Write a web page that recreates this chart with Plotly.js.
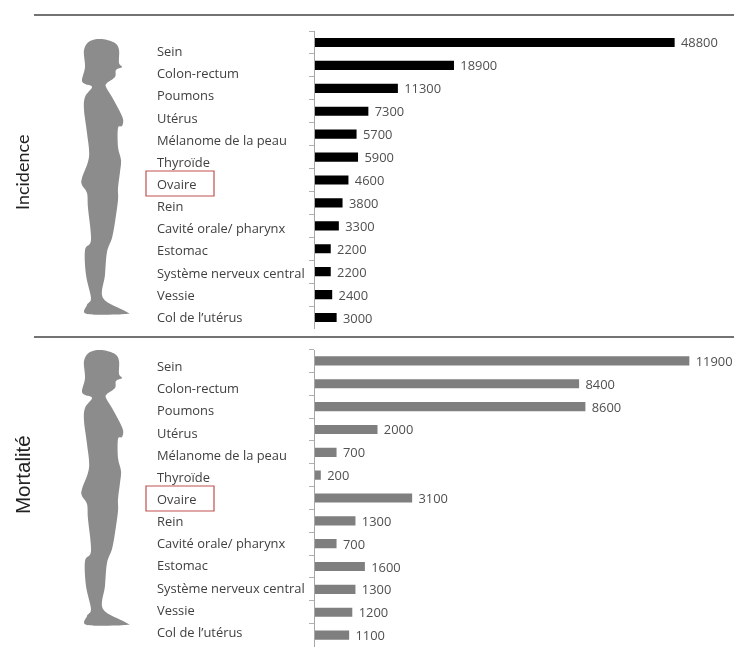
<!DOCTYPE html>
<html><head><meta charset="utf-8">
<script src="https://cdn.plot.ly/plotly-3.0.1.min.js"></script>
<style>html,body{margin:0;padding:0;background:#fff;overflow:hidden}#c{width:734px;height:651px;filter:blur(0.35px)}</style>
</head><body><div id="c"></div>
<script>
const categories = ["Sein","Colon-rectum","Poumons","Utérus","Mélanome de la peau","Thyroïde","Ovaire","Rein","Cavité orale/ pharynx","Estomac","Système nerveux central","Vessie","Col de l’utérus"];
const incidence = [48800,18900,11300,7300,5700,5900,4600,3800,3300,2200,2200,2400,3000];
const mortalite = [11900,8400,8600,2000,700,200,3100,1300,700,1600,1300,1200,1100];

const W=734,H=651;
const px=x=>x/W, py=y=>1-y/H;
// silhouette outline in page pixels relative to the top chart
const body=[[102,39],[115,43],[119,50],[119,63],[122,67],[116,70],[115,77],[107,83],[106,87],[112,97],[118,108],[123,119],[122,126],[118,128],[118,147],[121,160],[120,172],[118,188],[118,200],[115,222],[112,238],[107,252],[105,275],[103,298],[125,311],[126,314],[87,314],[87,305],[91,298],[86,275],[85,250],[91,240],[88,208],[87,193],[82,185],[82,178],[89,157],[87,133],[84,110],[85,97],[92,87],[85,84],[82,80],[85,67],[84,50],[90,41]];
function silhouette(dy){
  const p=body.map(([x,y])=>[x,y+dy]), n=p.length;
  const c=([x,y])=>px(x)+","+py(y);
  let d="M"+c(p[0]);
  for(let i=0;i<n;i++){
    const a=p[(i-1+n)%n],b=p[i],e=p[(i+1)%n],f=p[(i+2)%n];
    const c1=[b[0]+(e[0]-a[0])/6,b[1]+(e[1]-a[1])/6],c2=[e[0]-(f[0]-b[0])/6,e[1]-(f[1]-b[1])/6];
    d+="C"+c(c1)+" "+c(c2)+" "+c(e);
  }
  return d+"Z";
}
const labelFont={family:"Open Sans, sans-serif",size:12.9,color:"#404040"};
const valueFont={family:"Open Sans, sans-serif",size:12.9,color:"#505050"};
const bar=(vals,color,xa,ya)=>({type:"bar",orientation:"h",x:vals,y:categories,xaxis:xa,yaxis:ya,width:0.4,
  marker:{color:color,line:{width:0}},text:vals.map(v=>" "+v),textposition:"outside",constraintext:"none",cliponaxis:false,
  textfont:valueFont,hoverinfo:"x+y",showlegend:false});

const yaxisBase={type:"category",categoryorder:"array",categoryarray:categories,autorange:false,range:[12.5,-0.5],
  showticklabels:false,showgrid:false,zeroline:false,showline:true,linecolor:"#a6a6a6",linewidth:1,
  ticks:"outside",ticklen:5,tickcolor:"#b0b0b0",tickson:"boundaries"};
const labelAxis=(top,bottom,anchor)=>({type:"linear",domain:[py(bottom),py(top)],range:[12.5,-0.5],visible:false,anchor:anchor});
const xaxisBase=(max)=>({domain:[px(314.5),1],range:[0,max],visible:false});

const annots=[];
function labels(ya){
  categories.forEach((c,i)=>annots.push({xref:"paper",yref:ya,x:px(157),y:i,text:c,xanchor:"left",yanchor:"middle",
    showarrow:false,font:labelFont,borderpad:0,borderwidth:0}));
}
labels("y3");labels("y4");
annots.push({xref:"paper",yref:"paper",x:px(22),y:py(173),xanchor:"center",yanchor:"middle",text:"Incidence",textangle:-90,showarrow:false,font:{family:"Lato, sans-serif",size:18,color:"#222"}});
annots.push({xref:"paper",yref:"paper",x:px(22),y:py(475),xanchor:"center",yanchor:"middle",text:"Mortalité",textangle:-90,showarrow:false,font:{family:"Liberation Sans, sans-serif",size:20.5,color:"#222"}});

const rule=y=>({type:"line",xref:"paper",yref:"paper",x0:px(34),x1:1,y0:py(y),y1:py(y),line:{color:"#444",width:1.5}});
const box=(y0,y1)=>({type:"rect",xref:"paper",yref:"paper",x0:px(146),x1:px(214),y0:py(y0),y1:py(y1),line:{color:"#c0504d",width:1.2}});
const fig=d=>({type:"path",xref:"paper",yref:"paper",path:silhouette(d),fillcolor:"#8c8c8c",line:{width:0}});

const layout={width:W,height:H,margin:{l:0,r:0,t:0,b:0,pad:0},paper_bgcolor:"#fff",plot_bgcolor:"rgba(0,0,0,0)",bargap:0.6,showlegend:false,
  xaxis:Object.assign(xaxisBase(419.5/0.00738),{anchor:"y"}),
  yaxis:Object.assign({},yaxisBase,{domain:[py(329),py(31)],anchor:"x"}),
  xaxis2:Object.assign(xaxisBase(419.5/0.0315),{anchor:"y2"}),
  yaxis2:Object.assign({},yaxisBase,{domain:[py(646.5),py(349.5)],anchor:"x2"}),
  yaxis3:labelAxis(40,328,"x"),
  yaxis4:labelAxis(355,643,"x"),
  annotations:annots,
  shapes:[rule(15),rule(337),box(171,196),box(486,511),fig(0),fig(311)]
};
const data=[bar(incidence,"#000000","x","y"),bar(mortalite,"#7f7f7f","x2","y2"),
 {type:"scatter",x:[],y:[],xaxis:"x",yaxis:"y3",showlegend:false,hoverinfo:"skip"},
 {type:"scatter",x:[],y:[],xaxis:"x",yaxis:"y4",showlegend:false,hoverinfo:"skip"}];
Plotly.newPlot("c",data,layout,{displayModeBar:false,responsive:false});
</script></body></html>
